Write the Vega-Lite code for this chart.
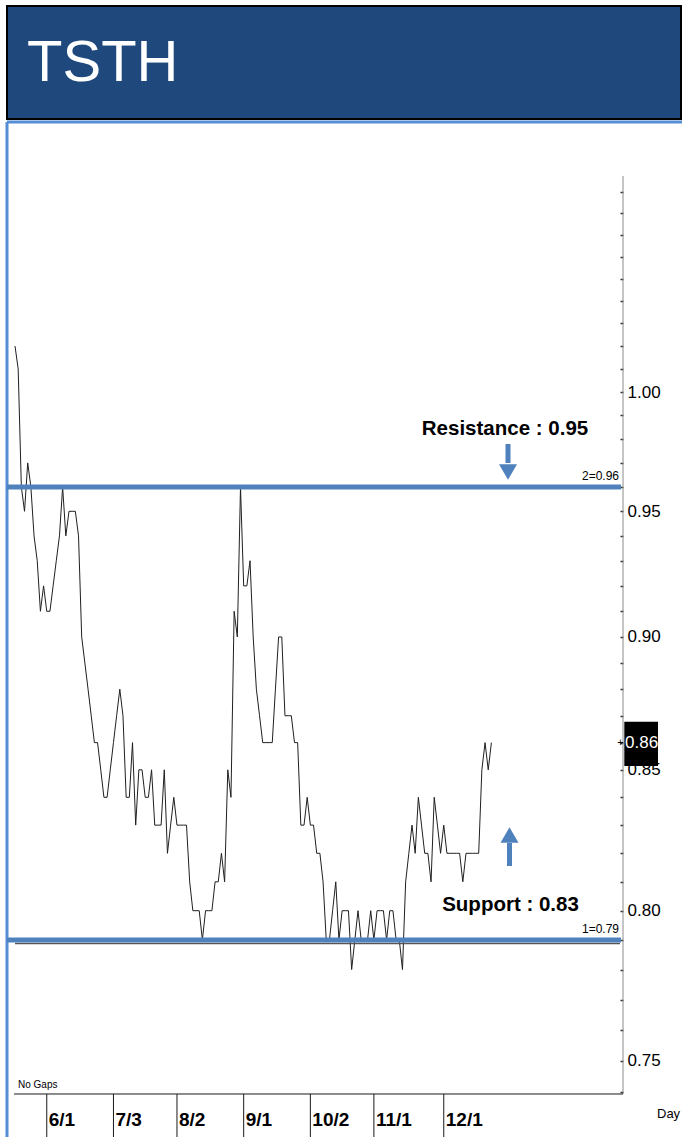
{
  "$schema": "https://vega.github.io/schema/vega-lite/v6.json",
  "padding": {"left": 4, "top": 5, "right": 0, "bottom": 0},
  "background": "#ffffff",
  "bounds": "flush",
  "spacing": 3,
  "config": {"view": {"stroke": null}},
  "datasets": {
    "prices": [
      {"t":0,"price":1.02},{"t":1,"price":1.01},{"t":2,"price":0.96},{"t":3,"price":0.95},{"t":4,"price":0.97},
      {"t":5,"price":0.96},{"t":6,"price":0.94},{"t":7,"price":0.93},{"t":8,"price":0.91},{"t":9,"price":0.92},
      {"t":10,"price":0.91},{"t":11,"price":0.91},{"t":12,"price":0.92},{"t":13,"price":0.93},{"t":14,"price":0.94},
      {"t":15,"price":0.96},{"t":16,"price":0.94},{"t":17,"price":0.95},{"t":18,"price":0.95},{"t":19,"price":0.95},
      {"t":20,"price":0.94},{"t":21,"price":0.90},{"t":22,"price":0.89},{"t":23,"price":0.88},{"t":24,"price":0.87},
      {"t":25,"price":0.86},{"t":26,"price":0.86},{"t":27,"price":0.85},{"t":28,"price":0.84},{"t":29,"price":0.84},
      {"t":30,"price":0.85},{"t":31,"price":0.86},{"t":32,"price":0.87},{"t":33,"price":0.88},{"t":34,"price":0.87},
      {"t":35,"price":0.84},{"t":36,"price":0.84},{"t":37,"price":0.86},{"t":38,"price":0.83},{"t":39,"price":0.85},
      {"t":40,"price":0.85},{"t":41,"price":0.84},{"t":42,"price":0.84},{"t":43,"price":0.85},{"t":44,"price":0.83},
      {"t":45,"price":0.83},{"t":46,"price":0.83},{"t":47,"price":0.85},{"t":48,"price":0.82},{"t":49,"price":0.83},
      {"t":50,"price":0.84},{"t":51,"price":0.83},{"t":52,"price":0.83},{"t":53,"price":0.83},{"t":54,"price":0.83},
      {"t":55,"price":0.81},{"t":56,"price":0.80},{"t":57,"price":0.80},{"t":58,"price":0.80},{"t":59,"price":0.79},
      {"t":60,"price":0.80},{"t":61,"price":0.80},{"t":62,"price":0.80},{"t":63,"price":0.81},{"t":64,"price":0.81},
      {"t":65,"price":0.82},{"t":66,"price":0.81},{"t":67,"price":0.85},{"t":68,"price":0.84},{"t":69,"price":0.91},
      {"t":70,"price":0.90},{"t":71,"price":0.96},{"t":72,"price":0.92},{"t":73,"price":0.92},{"t":74,"price":0.93},
      {"t":75,"price":0.90},{"t":76,"price":0.88},{"t":77,"price":0.87},{"t":78,"price":0.86},{"t":79,"price":0.86},
      {"t":80,"price":0.86},{"t":81,"price":0.86},{"t":82,"price":0.88},{"t":83,"price":0.90},{"t":84,"price":0.90},
      {"t":85,"price":0.87},{"t":86,"price":0.87},{"t":87,"price":0.87},{"t":88,"price":0.86},{"t":89,"price":0.86},
      {"t":90,"price":0.83},{"t":91,"price":0.83},{"t":92,"price":0.84},{"t":93,"price":0.83},{"t":94,"price":0.83},
      {"t":95,"price":0.82},{"t":96,"price":0.82},{"t":97,"price":0.81},{"t":98,"price":0.79},{"t":99,"price":0.79},
      {"t":100,"price":0.80},{"t":101,"price":0.81},{"t":102,"price":0.79},{"t":103,"price":0.80},{"t":104,"price":0.80},
      {"t":105,"price":0.80},{"t":106,"price":0.78},{"t":107,"price":0.79},{"t":108,"price":0.80},{"t":109,"price":0.79},
      {"t":110,"price":0.79},{"t":111,"price":0.79},{"t":112,"price":0.80},{"t":113,"price":0.79},{"t":114,"price":0.80},
      {"t":115,"price":0.80},{"t":116,"price":0.80},{"t":117,"price":0.79},{"t":118,"price":0.80},{"t":119,"price":0.80},
      {"t":120,"price":0.79},{"t":121,"price":0.79},{"t":122,"price":0.78},{"t":123,"price":0.81},{"t":124,"price":0.82},
      {"t":125,"price":0.83},{"t":126,"price":0.82},{"t":127,"price":0.84},{"t":128,"price":0.83},{"t":129,"price":0.82},
      {"t":130,"price":0.82},{"t":131,"price":0.81},{"t":132,"price":0.84},{"t":133,"price":0.83},{"t":134,"price":0.82},
      {"t":135,"price":0.83},{"t":136,"price":0.82},{"t":137,"price":0.82},{"t":138,"price":0.82},{"t":139,"price":0.82},
      {"t":140,"price":0.82},{"t":141,"price":0.81},{"t":142,"price":0.82},{"t":143,"price":0.82},{"t":144,"price":0.82},
      {"t":145,"price":0.82},{"t":146,"price":0.82},{"t":147,"price":0.85},{"t":148,"price":0.86},{"t":149,"price":0.85},
      {"t":150,"price":0.86}
    ],
    "months": [
      {"date":"2023-06-01","t":10,"label":"6/1"},
      {"date":"2023-07-03","t":31,"label":"7/3"},
      {"date":"2023-08-02","t":51,"label":"8/2"},
      {"date":"2023-09-01","t":72,"label":"9/1"},
      {"date":"2023-10-02","t":93,"label":"10/2"},
      {"date":"2023-11-01","t":113,"label":"11/1"},
      {"date":"2023-12-01","t":135,"label":"12/1"}
    ],
    "levels": [
      {"level":"Resistance","price":0.96,"tag":"2=0.96"},
      {"level":"Support","price":0.79,"tag":"1=0.79"}
    ]
  },
  "vconcat": [
    {
      "width": 674,
      "height": 113,
      "view": {"fill": "#1f497d", "stroke": "#000000", "strokeWidth": 2},
      "data": {"values": [{"ticker": "TSTH"}]},
      "mark": {"type": "text", "align": "left", "baseline": "alphabetic", "font": "Liberation Sans", "fontSize": 58, "color": "#ffffff"},
      "encoding": {
        "x": {"datum": 0.0297, "type": "quantitative", "scale": {"domain": [0, 1], "nice": false, "zero": false}, "axis": null},
        "y": {"datum": 0.3363, "type": "quantitative", "scale": {"domain": [0, 1], "nice": false, "zero": false}, "axis": null},
        "text": {"field": "ticker"}
      }
    },
    {
      "width": 675,
      "height": 1016,
      "data": {"values": [{}]},
      "layer": [
        {
          "data": {"name": "prices"},
          "mark": {"type": "line", "color": "#1f1f1f", "strokeWidth": 1},
          "encoding": {
            "x": {"field": "t", "type": "quantitative", "scale": {"domain": [-2.5189, 210.0126], "nice": false, "zero": false}, "axis": null},
            "y": {"field": "price", "type": "quantitative",
              "scale": {"type": "log", "domain": [0.72546, 1.12324], "nice": false},
              "axis": {"orient": "right", "offset": -59, "title": null, "domain": false, "grid": false,
                "values": [0.74,0.75,0.76,0.77,0.78,0.79,0.8,0.81,0.82,0.83,0.84,0.85,0.86,0.87,0.88,0.89,0.9,0.91,0.92,0.93,0.94,0.95,0.96,0.97,0.98,0.99,1.0,1.01,1.02,1.03,1.04,1.05,1.06,1.07,1.08,1.09],
                "labelExpr": "(datum.value > 0.745 && datum.value < 1.005 && round(datum.value * 100) % 5 == 0) ? format(datum.value, '.2f') : ''",
                "tickSize": -3, "tickWidth": 1.5, "tickColor": "#333333", "labelPadding": 7,
                "labelFont": "Liberation Sans", "labelFontSize": 17, "labelColor": "#000000",
                "labelOverlap": false, "labelFlush": false}
            }
          }
        },
        {
          "mark": {"type": "rule", "color": "#558ed5", "strokeWidth": 3},
          "encoding": {"x": {"datum": -2.5189, "type": "quantitative", "axis": null}, "y": {"datum": 0.72546, "type": "quantitative"}, "y2": {"datum": 1.12324}}
        },
        {
          "mark": {"type": "rule", "color": "#558ed5", "strokeWidth": 3},
          "encoding": {"y": {"datum": 1.12324, "type": "quantitative"}, "x": {"datum": -2.5189, "type": "quantitative", "axis": null}, "x2": {"datum": 210.0126}}
        },
        {
          "mark": {"type": "rule", "color": "#8c8c8c", "strokeWidth": 1},
          "encoding": {"x": {"datum": 191.436, "type": "quantitative", "axis": null}, "y": {"datum": 0.73933, "type": "quantitative"}, "y2": {"datum": 1.09745}}
        },
        {
          "mark": {"type": "rule", "color": "#1a1a1a", "strokeWidth": 1},
          "encoding": {"y": {"datum": 0.73933, "type": "quantitative"}, "x": {"datum": -0.3, "type": "quantitative", "axis": null}, "x2": {"datum": 191.436}}
        },
        {
          "data": {"name": "months"},
          "mark": {"type": "rule", "color": "#1a1a1a", "strokeWidth": 1},
          "encoding": {"x": {"field": "t", "type": "quantitative", "axis": null}, "y": {"datum": 0.73933, "type": "quantitative"}, "y2": {"datum": 0.72546}}
        },
        {
          "data": {"name": "months"},
          "mark": {"type": "text", "align": "left", "baseline": "middle", "dx": 2, "font": "Liberation Sans", "fontWeight": "bold", "fontSize": 19, "color": "#000000"},
          "encoding": {"x": {"field": "t", "type": "quantitative", "axis": null}, "y": {"datum": 0.731106, "type": "quantitative"}, "text": {"field": "label"}}
        },
        {
          "mark": {"type": "rule", "color": "#555555", "strokeWidth": 1.5, "yOffset": 3.5},
          "encoding": {"y": {"datum": 0.79, "type": "quantitative"}, "x": {"datum": 0, "type": "quantitative", "axis": null}, "x2": {"datum": 190.5}}
        },
        {
          "data": {"name": "levels"},
          "mark": {"type": "rule", "color": "#4f81bd", "strokeWidth": 5},
          "encoding": {"y": {"field": "price", "type": "quantitative"}, "x": {"datum": -2.5189, "type": "quantitative", "axis": null}, "x2": {"datum": 190.81}}
        },
        {
          "data": {"name": "levels"},
          "mark": {"type": "text", "align": "right", "baseline": "alphabetic", "dy": -7, "font": "Liberation Sans", "fontSize": 12, "color": "#000000"},
          "encoding": {"y": {"field": "price", "type": "quantitative"}, "x": {"datum": 190.18, "type": "quantitative", "axis": null}, "text": {"field": "tag"}}
        },
        {
          "mark": {"type": "rule", "color": "#4f81bd", "strokeWidth": 5},
          "encoding": {"x": {"datum": 155.23, "type": "quantitative", "axis": null}, "y": {"datum": 0.977916, "type": "quantitative"}, "y2": {"datum": 0.969952}}
        },
        {
          "mark": {"type": "point", "shape": "triangle-down", "filled": true, "size": 324, "color": "#4f81bd", "opacity": 1},
          "encoding": {"x": {"datum": 155.23, "type": "quantitative", "axis": null}, "y": {"datum": 0.966204, "type": "quantitative"}}
        },
        {
          "mark": {"type": "rule", "color": "#4f81bd", "strokeWidth": 5},
          "encoding": {"x": {"datum": 155.7, "type": "quantitative", "axis": null}, "y": {"datum": 0.823644, "type": "quantitative"}, "y2": {"datum": 0.815532}}
        },
        {
          "mark": {"type": "point", "shape": "triangle-up", "filled": true, "size": 324, "color": "#4f81bd", "opacity": 1},
          "encoding": {"x": {"datum": 155.7, "type": "quantitative", "axis": null}, "y": {"datum": 0.826484, "type": "quantitative"}}
        },
        {
          "mark": {"type": "text", "text": "Resistance : 0.95", "align": "center", "baseline": "alphabetic", "font": "Liberation Sans", "fontWeight": "bold", "fontSize": 20.5, "color": "#000000"},
          "encoding": {"x": {"datum": 154.28, "type": "quantitative", "axis": null}, "y": {"datum": 0.98171, "type": "quantitative"}}
        },
        {
          "mark": {"type": "text", "text": "Support : 0.83", "align": "center", "baseline": "alphabetic", "font": "Liberation Sans", "fontWeight": "bold", "fontSize": 20.5, "color": "#000000"},
          "encoding": {"x": {"datum": 156.02, "type": "quantitative", "axis": null}, "y": {"datum": 0.79997, "type": "quantitative"}}
        },
        {
          "mark": {"type": "rect", "color": "#000000"},
          "encoding": {"x": {"datum": 191.85, "type": "quantitative", "axis": null}, "x2": {"datum": 202.46}, "y": {"datum": 0.867773, "type": "quantitative"}, "y2": {"datum": 0.851388}}
        },
        {
          "mark": {"type": "text", "text": "0.86", "align": "left", "baseline": "middle", "font": "Liberation Sans", "fontSize": 17, "color": "#ffffff"},
          "encoding": {"x": {"datum": 192.1, "type": "quantitative", "axis": null}, "y": {"datum": 0.86, "type": "quantitative"}}
        },
        {
          "mark": {"type": "text", "text": "+", "align": "center", "baseline": "middle", "font": "Liberation Sans", "fontSize": 11, "color": "#000000"},
          "encoding": {"x": {"datum": 190.65, "type": "quantitative", "axis": null}, "y": {"datum": 0.86, "type": "quantitative"}}
        },
        {
          "mark": {"type": "text", "text": "No Gaps", "align": "left", "baseline": "alphabetic", "font": "Liberation Sans", "fontSize": 10, "color": "#000000"},
          "encoding": {"x": {"datum": 0.945, "type": "quantitative", "axis": null}, "y": {"datum": 0.741241, "type": "quantitative"}}
        },
        {
          "mark": {"type": "text", "text": "Day", "align": "left", "baseline": "alphabetic", "font": "Liberation Sans", "fontSize": 13, "color": "#000000"},
          "encoding": {"x": {"datum": 202.14, "type": "quantitative", "axis": null}, "y": {"datum": 0.731736, "type": "quantitative"}}
        }
      ]
    }
  ]
}
